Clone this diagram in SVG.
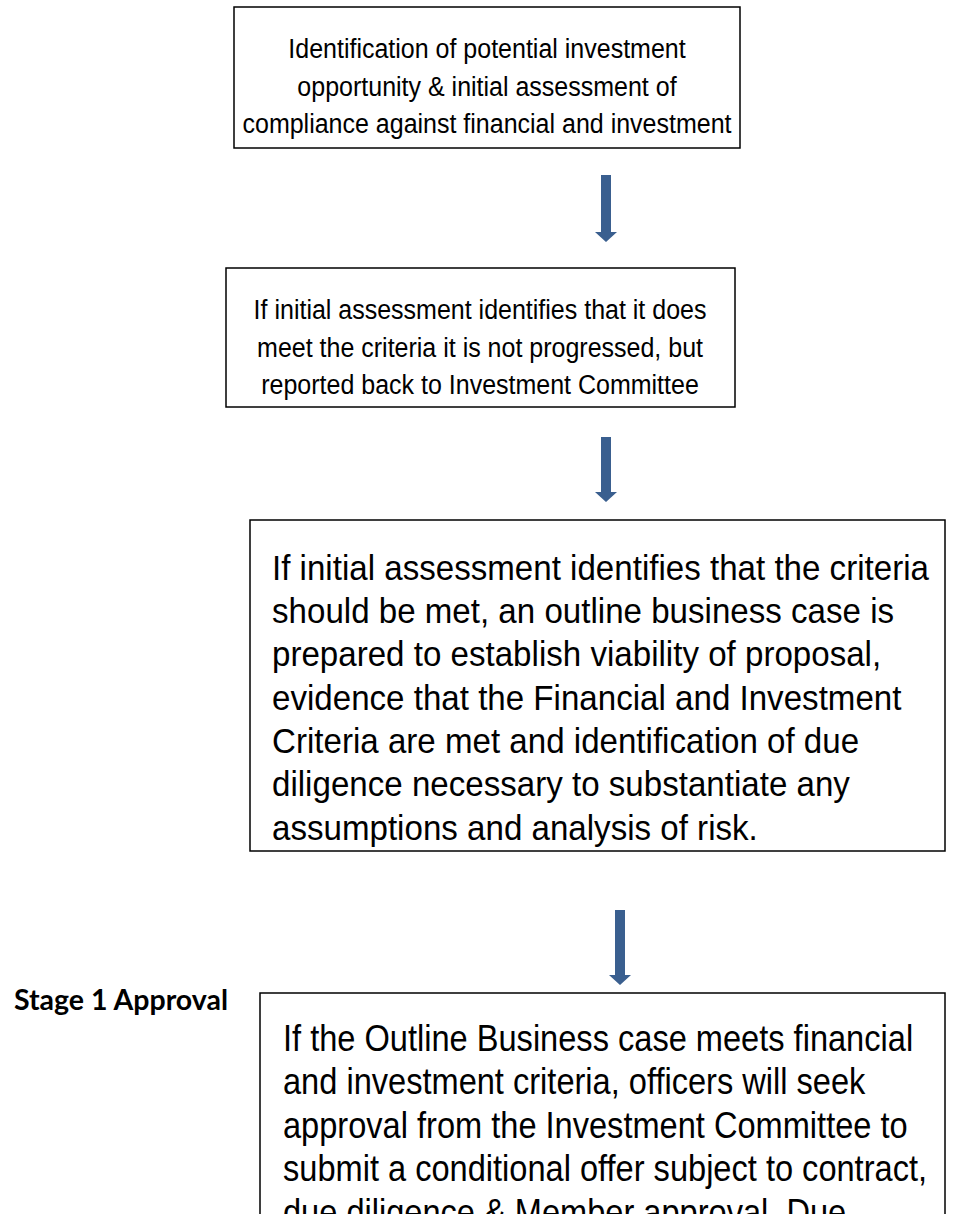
<svg xmlns="http://www.w3.org/2000/svg" width="962" height="1214" viewBox="0 0 962 1214">
  <style>
    .box { fill: #ffffff; stroke: #000000; stroke-width: 1.5; }
    .ctr { font-family: "Liberation Sans", Arial, sans-serif; font-size: 28px; fill: #000000; text-anchor: middle; }
    .lft { font-family: "Liberation Sans", Arial, sans-serif; font-size: 36px; fill: #000000; }
    .lbl { font-family: Lato, "Liberation Sans", sans-serif; font-size: 28.5px; font-weight: bold; fill: #000000; }
    .arrow { fill: #3A5F8F; }
  </style>
  <rect width="962" height="1214" fill="#ffffff"/>

  <!-- block arrows between the steps -->
  <g id="connectors">
    <path class="arrow" d="M601,175 H611 V232 H617 L606,242 L595,232 H601 Z"/>
    <path class="arrow" d="M601,437 H611 V492 H617 L606,502 L595,492 H601 Z"/>
    <path class="arrow" d="M615,910 H625 V975 H631 L620,985 L609,975 H615 Z"/>
  </g>

  <g id="step-identify">
    <rect class="box" x="234" y="7" width="506" height="141"/>
    <!-- text is slightly condensed: scale x by 0.893 about x=487 -->
    <g transform="matrix(0.893,0,0,1,52.1,0)">
      <text class="ctr" x="487" y="58">Identification of potential investment</text>
      <text class="ctr" x="487" y="96">opportunity &amp; initial assessment of</text>
      <text class="ctr" x="487" y="133">compliance against financial and investment</text>
    </g>
  </g>

  <g id="step-not-met">
    <rect class="box" x="226" y="268" width="509" height="139"/>
    <g transform="matrix(0.893,0,0,1,51.4,0)">
      <text class="ctr" x="480" y="319">If initial assessment identifies that it does</text>
      <text class="ctr" x="480" y="357">meet the criteria it is not progressed, but</text>
      <text class="ctr" x="480" y="394">reported back to Investment Committee</text>
    </g>
  </g>

  <g id="step-outline-case">
    <rect class="box" x="250" y="520" width="695" height="331"/>
    <!-- condensed body text: scale x by 0.92 about x=272 -->
    <g transform="matrix(0.92,0,0,1,21.76,0)">
      <text class="lft" x="272" y="580">If initial assessment identifies that the criteria</text>
      <text class="lft" x="272" y="623">should be met, an outline business case is</text>
      <text class="lft" x="272" y="666">prepared to establish viability of proposal,</text>
      <text class="lft" x="272" y="710">evidence that the Financial and Investment</text>
      <text class="lft" x="272" y="753">Criteria are met and identification of due</text>
      <text class="lft" x="272" y="796">diligence necessary to substantiate any</text>
      <text class="lft" x="272" y="840">assumptions and analysis of risk.</text>
    </g>
  </g>

  <g id="stage-label">
    <text class="lbl" x="14" y="1010">Stage 1 Approval</text>
  </g>

  <g id="step-stage1">
    <rect class="box" x="260" y="993" width="685" height="240"/>
    <!-- scale x by 0.905 about x=283 -->
    <g transform="matrix(0.905,0,0,1,26.885,0)">
      <text class="lft" x="283" y="1051">If the Outline Business case meets financial</text>
      <text class="lft" x="283" y="1094">and investment criteria, officers will seek</text>
      <text class="lft" x="283" y="1138">approval from the Investment Committee to</text>
      <text class="lft" x="283" y="1181">submit a conditional offer subject to contract,</text>
      <text class="lft" x="283" y="1225">due diligence &amp; Member approval. Due</text>
    </g>
  </g>
</svg>
